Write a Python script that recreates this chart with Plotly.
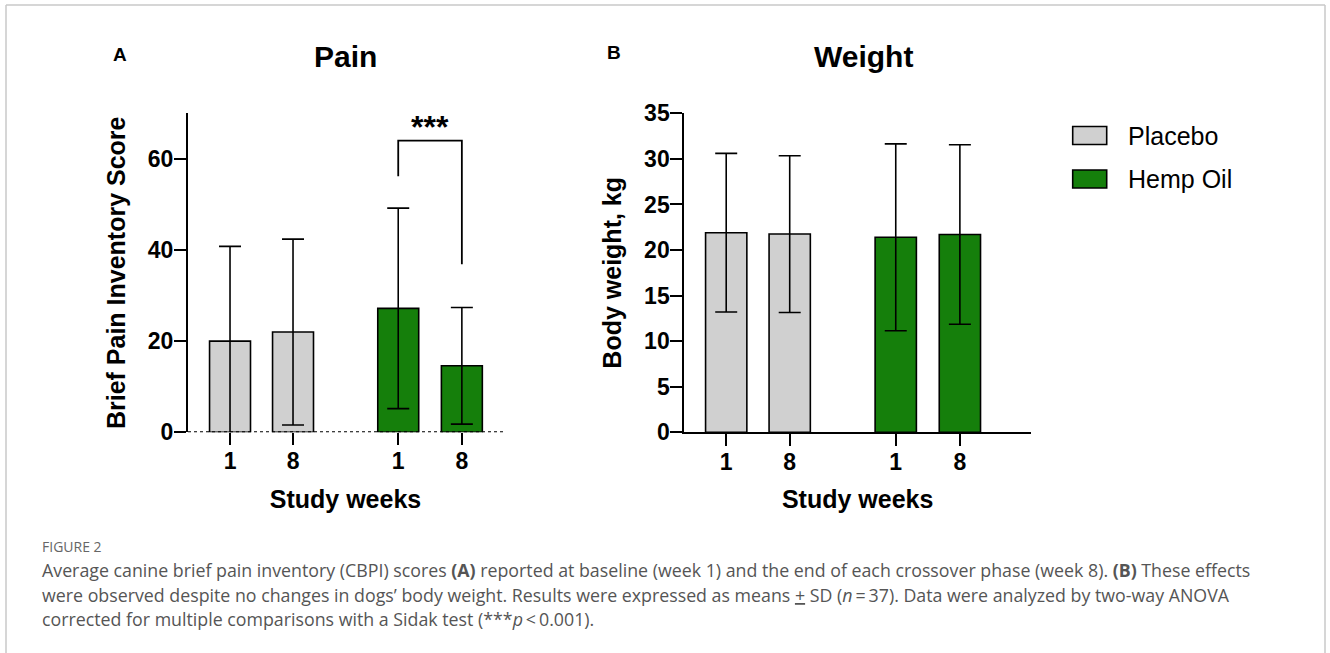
import plotly.graph_objects as go

W, H = 1330, 653

# ---- data ----
week_labels = ["1", "8", "1", "8"]
groups = ["Placebo", "Placebo", "Hemp Oil", "Hemp Oil"]
bar_pos = [0, 1, 2.67, 3.68]

pain_mean = [20.0, 22.0, 27.2, 14.6]
pain_sd = [20.8, 20.4, 22.0, 12.8]

weight_mean = [21.9, 21.75, 21.4, 21.7]
weight_sd = [8.7, 8.6, 10.25, 9.85]

placebo_color = "#d0d0d0"
hemp_color = "#157f0b"
colors = [placebo_color, placebo_color, hemp_color, hemp_color]

FONT = "Liberation Sans"


def px(x):
    return x / W


def py(y):
    return 1 - y / H


fig = go.Figure()

for xa, ya, means, sds in [("x", "y", pain_mean, pain_sd), ("x2", "y2", weight_mean, weight_sd)]:
    fig.add_trace(go.Bar(
        x=bar_pos, y=means, width=0.65,
        marker=dict(color=colors, line=dict(color="black", width=1.6)),
        error_y=dict(type="data", array=sds, visible=True, color="black", thickness=1.6, width=11),
        xaxis=xa, yaxis=ya, showlegend=False, hoverinfo="skip",
    ))

axis_font = dict(family=FONT, size=23, color="black", weight="bold")
title_font = dict(family=FONT, size=25, color="black", weight="bold")

common_y = dict(showgrid=False, zeroline=False, showline=True, linecolor="black", linewidth=2,
                ticks="outside", ticklen=12, tickwidth=2, tickcolor="black", automargin=False,
                ticklabelstandoff=-4, tickfont=axis_font, title_font=title_font)
common_x = dict(showgrid=False, zeroline=False, ticks="outside", ticklen=12, tickwidth=2,
                tickcolor="black", tickfont=axis_font, title_font=title_font, automargin=False,
                ticklabelstandoff=-4, tickmode="array", tickvals=bar_pos, ticktext=week_labels)

fig.update_layout(
    width=W, height=H,
    margin=dict(l=0, r=0, t=0, b=0, pad=0, autoexpand=False),
    paper_bgcolor="white", plot_bgcolor="white",
    font=dict(family=FONT),
    xaxis=dict(domain=[px(188), px(503)], range=[-0.667, 4.333], anchor="y", showline=False,
               title=dict(text="Study weeks", standoff=17), **common_x),
    yaxis=dict(domain=[py(432.3), py(113.3)], range=[0, 70], anchor="x",
               tickvals=[0, 20, 40, 60],
               title=dict(text="Brief Pain Inventory Score", standoff=15), **common_y),
    xaxis2=dict(domain=[px(684.3), px(1031)], range=[-0.66, 4.8], anchor="y2", showline=True,
                linecolor="black", linewidth=2,
                title=dict(text="Study weeks", standoff=17), **common_x),
    yaxis2=dict(domain=[py(432.3), py(113.3)], range=[0, 35], anchor="x2",
                tickvals=[0, 5, 10, 15, 20, 25, 30, 35],
                title=dict(text="Body weight, kg", standoff=15), **common_y),
)

shapes = []
# dotted zero line in panel A
shapes.append(dict(type="line", xref="x", yref="y", x0=-0.667, x1=4.333, y0=0, y1=0,
                   line=dict(color="black", width=2, dash="3px,3px")))
# significance bracket
shapes.append(dict(type="path", xref="x", yref="y",
                   path=f"M {bar_pos[2]},56.2 L {bar_pos[2]},64 L {bar_pos[3]},64 L {bar_pos[3]},36.9",
                   line=dict(color="black", width=1.8)))
# legend swatches
for (y0, y1, c) in [(126.5, 144.5, placebo_color), (170, 188, hemp_color)]:
    shapes.append(dict(type="rect", xref="paper", yref="paper", x0=px(1072.7), x1=px(1106.7),
                       y0=py(y1), y1=py(y0), fillcolor=c, line=dict(color="black", width=1.6)))
# figure frame
frame = "#c8c8c8"
shapes.append(dict(type="line", xref="paper", yref="paper", x0=px(6), x1=px(1325), y0=py(5), y1=py(5),
                   line=dict(color=frame, width=1.5)))
shapes.append(dict(type="line", xref="paper", yref="paper", x0=px(6), x1=px(6), y0=py(5), y1=py(653),
                   line=dict(color=frame, width=1.5)))
shapes.append(dict(type="line", xref="paper", yref="paper", x0=px(1325), x1=px(1325), y0=py(5), y1=py(653),
                   line=dict(color=frame, width=1.5)))
fig.update_layout(shapes=shapes)

ann = []
ann.append(dict(x=(bar_pos[2] + bar_pos[3]) / 2, y=67.0, xref="x", yref="y", text="<b>***</b>",
                showarrow=False, font=dict(family=FONT, size=32, color="black"), yanchor="middle"))
ann.append(dict(x=px(345.7), y=py(57), xref="paper", yref="paper", text="<b>Pain</b>", showarrow=False,
                font=dict(family=FONT, size=30, color="black"), xanchor="center", yanchor="middle"))
ann.append(dict(x=px(863.6), y=py(57), xref="paper", yref="paper", text="<b>Weight</b>", showarrow=False,
                font=dict(family=FONT, size=30, color="black"), xanchor="center", yanchor="middle"))
ann.append(dict(x=px(119.6), y=py(55), xref="paper", yref="paper", text="<b>A</b>", showarrow=False,
                font=dict(family=FONT, size=19, color="black"), xanchor="center", yanchor="middle"))
ann.append(dict(x=px(614), y=py(53), xref="paper", yref="paper", text="<b>B</b>", showarrow=False,
                font=dict(family=FONT, size=19, color="black"), xanchor="center", yanchor="middle"))
for name, yc in [("Placebo", 135.5), ("Hemp Oil", 179)]:
    ann.append(dict(x=px(1126), y=py(yc), xref="paper", yref="paper", text=name, showarrow=False,
                    font=dict(family=FONT, size=25, color="black"), xanchor="left", yanchor="middle"))

CAP_FONT = dict(family="Open Sans", size=17.8, color="#555555")
ann.append(dict(x=px(40), y=py(546.5), xref="paper", yref="paper", text="FIGURE 2", showarrow=False,
                font=dict(family="Open Sans", size=14, color="#666666"),
                xanchor="left", yanchor="middle"))
cap_lines = [
    "Average canine brief pain inventory (CBPI) scores <b>(A)</b> reported at baseline (week 1) and the end of each crossover phase (week 8). <b>(B)</b> These effects",
    "were observed despite no changes in dogs\u2019 body weight. Results were expressed as means <u>+</u> SD (<i>n</i>\u2009=\u200937). Data were analyzed by two-way ANOVA",
    "corrected for multiple comparisons with a Sidak test (***<i>p</i>\u2009<\u20090.001).",
]
for line, yc in zip(cap_lines, [570, 594.5, 619]):
    ann.append(dict(x=px(40), y=py(yc), xref="paper", yref="paper", text=line, showarrow=False,
                    font=CAP_FONT, xanchor="left", yanchor="middle", align="left"))
fig.update_layout(annotations=ann)

fig.write_html(
    "out.html",
    config={"displayModeBar": False},
    post_script="document.body.style.margin='0';",
)
